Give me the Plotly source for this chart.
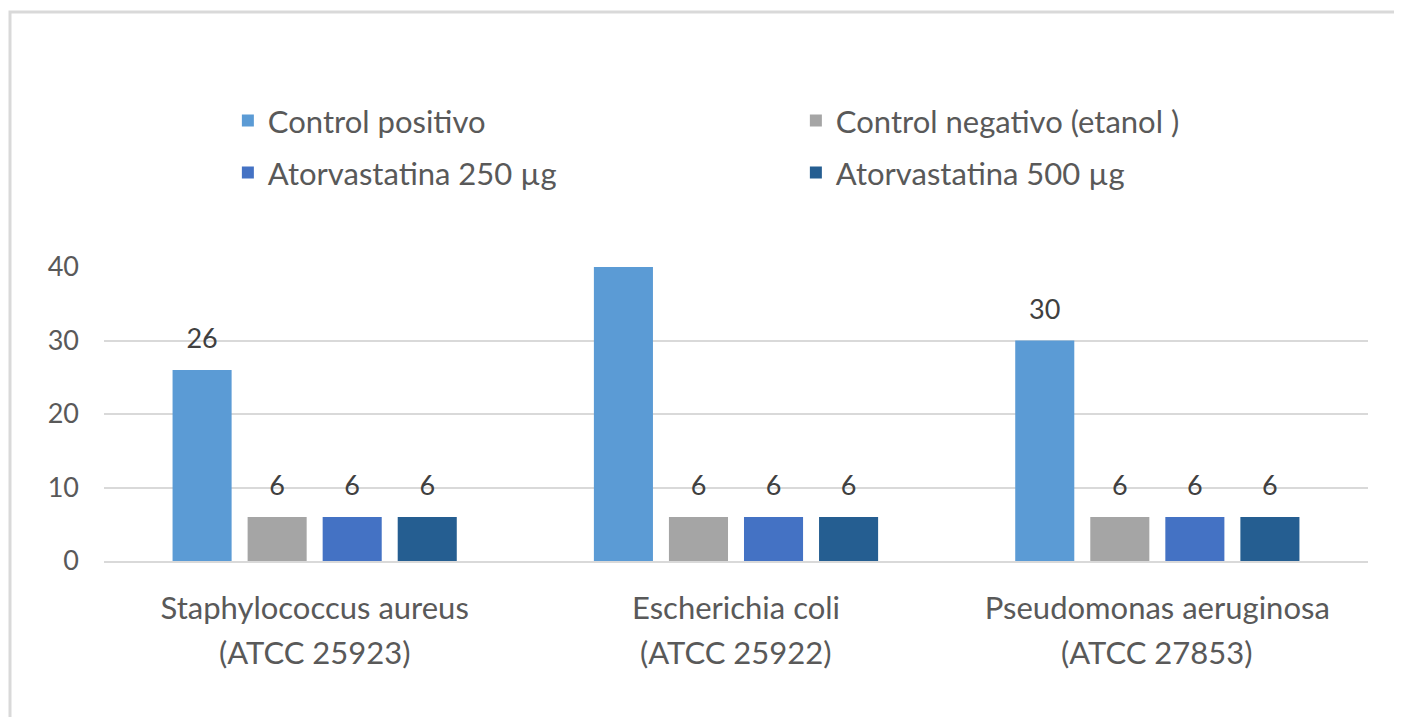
import plotly.graph_objects as go

species = ["Staphylococcus aureus", "Escherichia coli", "Pseudomonas aeruginosa"]
strains = ["(ATCC 25923)", "(ATCC 25922)", "(ATCC 27853)"]
series_names = ["Control positivo", "Control negativo (etanol )",
                "Atorvastatina 250 µg", "Atorvastatina 500 µg"]
control_positivo = [26, 40, 30]
control_negativo = [6, 6, 6]
atorvastatina_250 = [6, 6, 6]
atorvastatina_500 = [6, 6, 6]
series_values = [control_positivo, control_negativo, atorvastatina_250, atorvastatina_500]
colors = ["#5B9BD5", "#A5A5A5", "#4472C4", "#255E91"]
legend_ids = ["legend", "legend", "legend2", "legend2"]
y_ticks = [0, 10, 20, 30, 40]

FONT = "Lato"
FS = 31
FS_NUM = 27
TXT = "#595959"

fig = go.Figure()
for name, vals, col, lg in zip(series_names, series_values, colors, legend_ids):
    fig.add_trace(go.Bar(
        x=species, y=vals, name=name, legend=lg,
        marker=dict(color=col, line=dict(width=0)),
        texttemplate="<span style='font-size:%dpx'>%%{y}</span><br> " % FS_NUM,
        textposition="outside", cliponaxis=True, constraintext="none",
        textfont=dict(family=FONT, size=12, color="#404040"),
    ))

for sp, st in zip(species, strains):
    fig.add_annotation(x=sp, xref="x", y=-0.31, yref="paper", yanchor="middle",
                       text=st, showarrow=False,
                       font=dict(family=FONT, size=FS, color=TXT))

legend_common = dict(orientation="h", entrywidthmode="pixels", entrywidth=523,
                     xanchor="left", yanchor="middle", bgcolor="rgba(0,0,0,0)",
                     font=dict(family=FONT, size=FS, color=TXT))
fig.update_layout(
    width=1394, height=709,
    margin=dict(l=96, r=34, t=259, b=156),
    paper_bgcolor="white", plot_bgcolor="white",
    barmode="group", bargap=0.2875, bargroupgap=0.213,
    font=dict(family=FONT, size=FS, color=TXT),
    legend=dict(x=0.098, y=1.497, **legend_common),
    legend2=dict(x=0.098, y=1.32, **legend_common),
    xaxis=dict(showgrid=False, showline=True, linecolor="#D9D9D9", linewidth=2,
               ticks="", ticklabelstandoff=19,
               tickfont=dict(family=FONT, size=FS, color=TXT)),
    yaxis=dict(range=[0, 40], tickvals=y_ticks, showgrid=True, gridcolor="#D9D9D9",
               gridwidth=2, zeroline=False, showline=False, ticks="",
               ticklabelstandoff=24,
               tickfont=dict(family=FONT, size=FS_NUM, color=TXT)),
    shapes=[
        dict(type="rect", xref="paper", yref="paper",
             x0=(2 - 96) / 1264, x1=(1420 - 96) / 1264,
             y0=(553 - 730) / 294, y1=(553 - 4) / 294,
             line=dict(color="#D9D9D9", width=3), fillcolor="rgba(0,0,0,0)", layer="below"),
    ],
)

fig.write_html("out.html")
